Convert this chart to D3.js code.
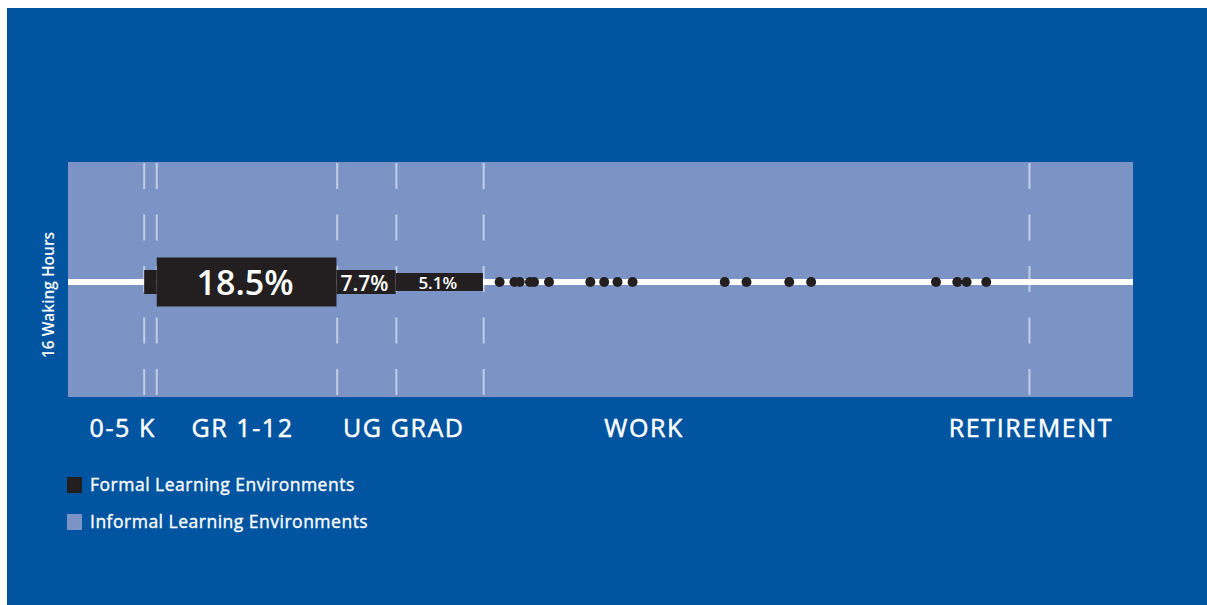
<!DOCTYPE html>
<html><head><meta charset="utf-8">
<script src="https://cdn.jsdelivr.net/npm/d3@7"></script>
<style>
html,body{margin:0;padding:0;background:#fff;}
svg{display:block;}
text{font-family:"Open Sans","Noto Sans",sans-serif;}
</style></head>
<body>
<script>
// ---- data (x axis in years of age, 16 waking hours band) ----
const stageBoundaries = [5.15, 6, 18.2, 22.2, 28.1, 65];
const stageLabels = ["0-5 K", "GR 1-12", "UG GRAD", "WORK", "RETIREMENT"];
const stageLabelAt = [3.7, 11.8, 22.7, 38.95, 65.1];
const formalStart = [5.15, 6, 18.15, 22.15];
const formalEnd = [6, 18.15, 22.15, 28.05];
const formalPct = [7.7, 18.5, 7.7, 5.1];
const formalLabels = ["", "18.5%", "7.7%", "5.1%"];
const formalDots = [29.18, 30.18, 30.54, 31.23, 31.51, 32.52, 35.31, 36.25, 37.15, 38.17,
                    44.40, 45.87, 48.76, 50.24, 58.68, 60.12, 60.75, 62.08];
const legendLabels = ["Formal Learning Environments", "Informal Learning Environments"];
const yAxisLabel = "16 Waking Hours";

const W = 1207, H = 605;
const BLUE = "#0054a0", BAND = "#7b93c5", DARK = "#231f20";
const band = {x0: 68, x1: 1133, y0: 162, y1: 397};
const lineY = 282;

const svg = d3.select("body").append("svg").attr("width", W).attr("height", H);
svg.append("rect").attr("x", 7).attr("y", 8).attr("width", W - 7).attr("height", H - 8).attr("fill", BLUE);

const x = d3.scaleLinear().domain([0, 72]).range([band.x0, band.x1]);
const h = d3.scaleLinear().domain([5.1, 18.5]).range([18, 49]);
const fontS = d3.scaleLinear().domain([5.1, 7.7, 18.5]).range([17, 21, 34]);

svg.append("rect").attr("x", band.x0).attr("y", band.y0)
  .attr("width", band.x1 - band.x0).attr("height", band.y1 - band.y0).attr("fill", BAND);

// dashed boundaries
svg.append("g").selectAll("line").data(stageBoundaries).join("line")
  .attr("x1", d => x(d)).attr("x2", d => x(d))
  .attr("y1", band.y0 + 1).attr("y2", band.y1)
  .attr("stroke", "rgba(255,255,255,0.55)").attr("stroke-width", 2)
  .attr("stroke-dasharray", "26,25.5");

// white line
svg.append("rect").attr("x", band.x0).attr("y", lineY - 3)
  .attr("width", band.x1 - band.x0).attr("height", 6).attr("fill", "#fff");

// formal bars
const bars = formalPct.map((p, i) => ({p, s: formalStart[i], e: formalEnd[i], label: formalLabels[i]}));
svg.append("g").selectAll("rect").data(bars).join("rect")
  .attr("x", d => x(d.s)).attr("width", d => x(d.e) - x(d.s))
  .attr("y", d => lineY - h(d.p) / 2).attr("height", d => h(d.p))
  .attr("fill", DARK);
svg.append("g").selectAll("text").data(bars.filter(d => d.label)).join("text")
  .attr("x", d => (x(d.s) + x(d.e)) / 2 - 1.5)
  .attr("y", lineY + 1.5)
  .attr("dy", "0.35em")
  .attr("text-anchor", "middle")
  .attr("fill", "#fff").attr("font-weight", 600)
  .attr("font-size", d => fontS(d.p))
  .text(d => d.label);

// dots
svg.append("g").selectAll("circle").data(formalDots).join("circle")
  .attr("cx", d => x(d)).attr("cy", lineY).attr("r", 5).attr("fill", DARK);

// stage labels
svg.append("g").selectAll("text").data(stageLabels).join("text")
  .attr("x", (d, i) => x(stageLabelAt[i])).attr("y", 437)
  .attr("text-anchor", "middle").attr("fill", "#fff")
  .attr("stroke", "#fff").attr("stroke-width", 0.5)
  .attr("font-size", 25).attr("letter-spacing", 1.6)
  .text(d => d);

// y label
svg.append("text").attr("transform", "translate(54,295) rotate(-90)")
  .attr("text-anchor", "middle").attr("fill", "#fff")
  .attr("font-size", 15.5).attr("font-weight", 600)
  .text(yAxisLabel);

// legend
const lg = svg.append("g").selectAll("g").data(legendLabels).join("g")
  .attr("transform", (d, i) => `translate(67,${477 + i * 37})`);
lg.append("rect").attr("width", 15).attr("height", 16)
  .attr("fill", (d, i) => i === 0 ? DARK : BAND);
lg.append("text").attr("x", 23).attr("y", 14)
  .attr("fill", "#fff").attr("stroke", "#fff").attr("stroke-width", 0.35)
  .attr("font-size", 17.5).attr("letter-spacing", 0.5)
  .text(d => d);
</script>
</body></html>
